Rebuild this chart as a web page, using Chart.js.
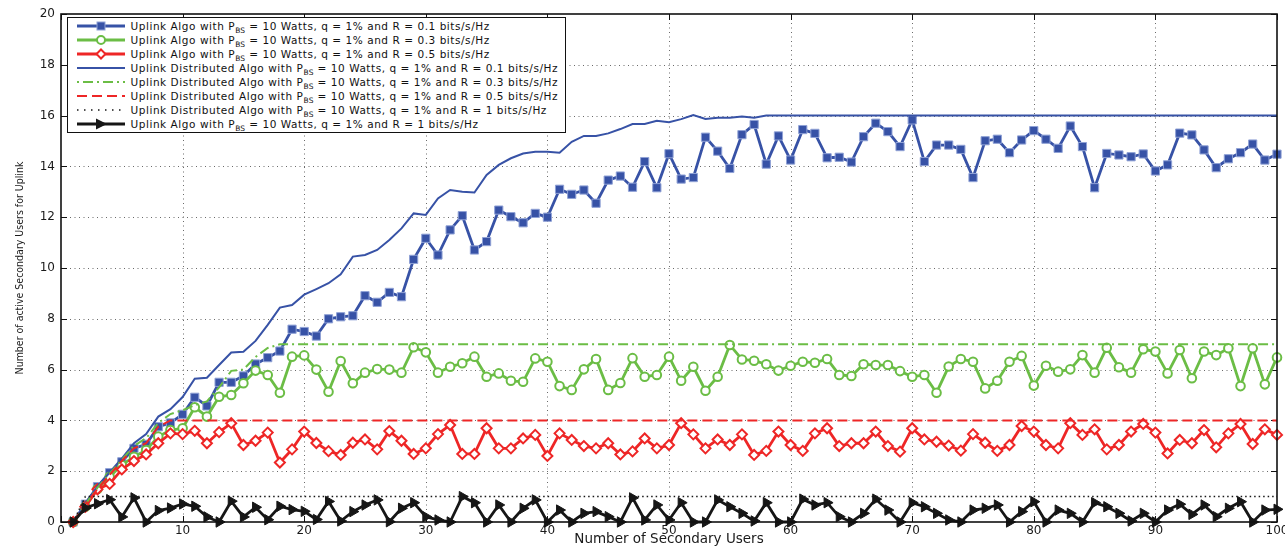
<!DOCTYPE html>
<html>
<head>
<meta charset="utf-8">
<script src="https://cdn.jsdelivr.net/npm/chart.js@4.4.1/dist/chart.umd.min.js"></script>
<style>
  html, body { margin: 0; padding: 0; background: #fff; }
  #wrap { position: relative; width: 1285px; height: 548px; }
  #c { position: absolute; left: 0; top: 0; }
  #legend {
    position: absolute; left: 67px; top: 16.5px; width: 497px; height: 113px;
    border: 1.5px solid #111; background: #fff; padding: 1px 0 0 0;
    font-family: 'DejaVu Sans', sans-serif; font-size: 10.5px; letter-spacing: 0.55px; color: #111;
  }
  .row { height: 14.1px; display: flex; align-items: center; white-space: nowrap; }
  .row svg { margin-left: 8.5px; margin-right: 6px; flex: none; }
  .row sub { font-size: 7.5px; vertical-align: -3px; line-height: 0; letter-spacing: 0.2px; }
</style>
</head>
<body>
<div id="wrap">
  <canvas id="c" width="1285" height="548"></canvas>
  <div id="legend"></div>
</div>
<script>
// ---------- data ----------
const users = [1,2,3,4,5,6,7,8,9,10,11,12,13,14,15,16,17,18,19,20,21,22,23,24,25,26,27,28,29,30,31,32,33,34,35,36,37,38,39,40,41,42,43,44,45,46,47,48,49,50,51,52,53,54,55,56,57,58,59,60,61,62,63,64,65,66,67,68,69,70,71,72,73,74,75,76,77,78,79,80,81,82,83,84,85,86,87,88,89,90,91,92,93,94,95,96,97,98,99,100];

const algoR01 = [0,0.7,1.39,1.94,2.37,2.9,3.06,3.75,3.9,4.24,4.91,4.57,5.5,5.5,5.75,6.22,6.47,6.73,7.59,7.5,7.32,8.0,8.08,8.12,8.91,8.65,9.04,8.87,10.34,11.17,10.51,11.5,12.06,10.71,11.04,12.28,12.02,11.78,12.15,12.0,13.1,12.9,13.07,12.55,13.46,13.62,13.18,14.19,13.16,14.5,13.5,13.56,15.15,14.6,13.92,15.25,15.65,14.09,15.2,14.25,15.45,15.3,14.34,14.36,14.17,15.17,15.7,15.37,14.78,15.83,14.19,14.84,14.84,14.67,13.56,15.01,15.07,14.54,15.04,15.41,15.07,14.71,15.59,14.78,13.16,14.51,14.45,14.38,14.49,13.82,14.06,15.31,15.24,14.65,13.95,14.3,14.54,14.88,14.25,14.48];

const algoR03 = [0,0.6,1.3,1.78,2.24,2.57,2.83,3.36,3.62,3.69,4.52,4.15,4.93,5.0,5.46,5.96,5.79,5.09,6.51,6.56,6.0,5.13,6.34,5.46,5.88,6.02,6.0,5.88,6.88,6.68,5.88,6.11,6.25,6.51,5.72,5.85,5.56,5.52,6.44,6.31,5.35,5.2,6.01,6.42,5.2,5.47,6.45,5.72,5.79,6.51,5.56,6.11,5.17,5.72,6.97,6.4,6.35,6.21,5.96,6.15,6.31,6.27,6.42,5.79,5.75,6.21,6.18,6.18,5.94,5.72,5.79,5.09,6.12,6.42,6.31,5.26,5.56,6.31,6.54,5.37,6.15,5.92,6.01,6.57,5.88,6.86,6.09,5.88,6.8,6.71,5.85,6.77,5.66,6.71,6.57,6.84,5.35,6.84,5.42,6.48];

const algoR05 = [0,0.6,1.29,1.5,2.07,2.4,2.66,3.1,3.49,3.46,3.59,3.1,3.54,3.89,3.03,3.2,3.52,2.34,2.86,3.56,3.11,2.79,2.64,3.12,3.25,2.86,3.58,3.2,2.68,2.9,3.46,3.82,2.68,2.68,3.69,2.9,2.9,3.29,3.43,2.6,3.49,3.23,2.99,2.9,3.1,2.66,2.78,3.29,2.9,3.03,3.89,3.45,2.9,3.25,3.03,3.45,2.64,2.8,3.56,3.03,2.8,3.49,3.69,2.99,3.1,3.1,3.56,2.99,2.77,3.69,3.25,3.16,3.01,2.81,3.46,3.12,2.8,3.03,3.78,3.56,3.03,2.9,3.89,3.43,3.65,2.86,3.03,3.56,3.86,3.52,2.7,3.23,3.1,3.62,2.94,3.49,3.86,3.07,3.65,3.43];

const distR01 = [0,0.75,1.4,1.95,2.5,3.1,3.46,4.15,4.44,4.92,5.64,5.68,6.18,6.67,6.7,7.13,7.76,8.44,8.54,8.95,9.17,9.4,9.75,10.45,10.51,10.71,11.1,11.56,12.15,12.09,12.74,13.07,13.0,12.97,13.66,14.06,14.32,14.51,14.58,14.58,14.54,14.97,15.2,15.2,15.3,15.47,15.67,15.67,15.8,15.74,15.86,16.02,15.87,15.92,15.92,15.96,15.92,16,16,16,16,16,16,16,16,16,16,16,16,16,16,16,16,16,16,16,16,16,16,16,16,16,16,16,16,16,16,16,16,16,16,16,16,16,16,16,16,16,16,16];

const distR03 = [0,0.7,1.35,1.9,2.45,3.0,3.3,3.9,4.25,4.4,4.6,4.75,5.3,5.95,6.0,6.5,6.85,7,7,7,7,7,7,7,7,7,7,7,7,7,7,7,7,7,7,7,7,7,7,7,7,7,7,7,7,7,7,7,7,7,7,7,7,7,7,7,7,7,7,7,7,7,7,7,7,7,7,7,7,7,7,7,7,7,7,7,7,7,7,7,7,7,7,7,7,7,7,7,7,7,7,7,7,7,7,7,7,7,7,7];

const distR05 = [0,0.7,1.3,1.85,2.4,2.9,3.1,3.75,4,4,4,4,4,4,4,4,4,4,4,4,4,4,4,4,4,4,4,4,4,4,4,4,4,4,4,4,4,4,4,4,4,4,4,4,4,4,4,4,4,4,4,4,4,4,4,4,4,4,4,4,4,4,4,4,4,4,4,4,4,4,4,4,4,4,4,4,4,4,4,4,4,4,4,4,4,4,4,4,4,4,4,4,4,4,4,4,4,4,4,4];

const distR1 = [0,1,1,1,1,1,1,1,1,1,1,1,1,1,1,1,1,1,1,1,1,1,1,1,1,1,1,1,1,1,1,1,1,1,1,1,1,1,1,1,1,1,1,1,1,1,1,1,1,1,1,1,1,1,1,1,1,1,1,1,1,1,1,1,1,1,1,1,1,1,1,1,1,1,1,1,1,1,1,1,1,1,1,1,1,1,1,1,1,1,1,1,1,1,1,1,1,1,1,1];

const algoR1 = [0,0.55,0.72,0.88,0.2,0.95,0,0.45,0.55,0.71,0.62,0.2,0,0.82,0.2,0.58,0.09,0.62,0.49,0.42,0.1,0.81,0.04,0.41,0.67,0.87,0.01,0.54,0.76,0.21,0.08,0,1.0,0.76,0,0.67,0,0.54,0.87,0,0.47,0,0.34,0.41,0.21,0,0.95,0.08,0.67,0.08,0.76,0,0,0.87,0.6,0.34,0.04,0.76,0,0,0.9,0.67,0.76,0.21,0,0.34,0.9,0.47,0,0.76,0.6,0.34,0.08,0,0.47,0.54,0.67,0,0.41,0.8,0,0.47,0.34,0,0.76,0.6,0.34,0.04,0.34,0,0.47,0.7,0.3,0.67,0.21,0.54,0.8,0,0.47,0.5];

const xTicks = [0,10,20,30,40,50,60,70,80,90,100];
const yTicks = [0,2,4,6,8,10,12,14,16,18,20];

const seriesNames = [
  ['Uplink Algo with P', 'BS', ' = 10 Watts, q = 1% and R = 0.1 bits/s/Hz'],
  ['Uplink Algo with P', 'BS', ' = 10 Watts, q = 1% and R = 0.3 bits/s/Hz'],
  ['Uplink Algo with P', 'BS', ' = 10 Watts, q = 1% and R = 0.5 bits/s/Hz'],
  ['Uplink Distributed Algo with P', 'BS', ' = 10 Watts, q = 1% and R = 0.1 bits/s/Hz'],
  ['Uplink Distributed Algo with P', 'BS', ' = 10 Watts, q = 1% and R = 0.3 bits/s/Hz'],
  ['Uplink Distributed Algo with P', 'BS', ' = 10 Watts, q = 1% and R = 0.5 bits/s/Hz'],
  ['Uplink Distributed Algo with P', 'BS', ' = 10 Watts, q = 1% and R = 1 bits/s/Hz'],
  ['Uplink Algo with P', 'BS', ' = 10 Watts, q = 1% and R = 1 bits/s/Hz']
];
const xTitle = 'Number of Secondary Users';
const yTitle = 'Number of active Secondary Users for Uplink';

// ---------- styles ----------
const BLUE = '#3752a6', GREEN = '#6bbd45', RED = '#ee2626', BLACK = '#161616';
const pts = arr => users.map((u, i) => ({x: u, y: arr[i]}));

const styles = [
  {data: algoR01, borderColor: BLUE, borderWidth: 2.8, pointStyle: 'rect', pointRadius: 5.8, pointBackgroundColor: BLUE, pointBorderColor: '#90a2d6', pointBorderWidth: 1},
  {data: algoR03, borderColor: GREEN, borderWidth: 2.8, pointStyle: 'circle', pointRadius: 4.3, pointBackgroundColor: '#fff', pointBorderColor: GREEN, pointBorderWidth: 2},
  {data: algoR05, borderColor: RED, borderWidth: 2.8, pointStyle: 'rectRot', pointRadius: 5, pointBackgroundColor: '#fff', pointBorderColor: RED, pointBorderWidth: 2},
  {data: distR01, borderColor: BLUE, borderWidth: 2, pointRadius: 0},
  {data: distR03, borderColor: GREEN, borderWidth: 2, borderDash: [10, 4, 2, 4], pointRadius: 0},
  {data: distR05, borderColor: RED, borderWidth: 2, borderDash: [10, 5], pointRadius: 0},
  {data: distR1, borderColor: BLACK, borderWidth: 1.5, borderDash: [1.5, 3], pointRadius: 0},
  {data: algoR1, borderColor: BLACK, borderWidth: 2.8, pointStyle: 'triangle', rotation: 90, pointRadius: 6, pointBackgroundColor: BLACK, pointBorderColor: BLACK, pointBorderWidth: 1}
];

const datasets = styles.map((s, i) => Object.assign({}, s, {
  label: seriesNames[i].join(''),
  data: pts(s.data),
  fill: false, tension: 0, clip: false,
  pointRotation: s.rotation || 0,
  order: styles.length - i
}));

// ---------- plugin: MATLAB-like grid, box and inner ticks ----------
const matlabAxes = {
  id: 'matlabAxes',
  beforeDatasetsDraw(chart) {
    const {ctx, chartArea: a, scales: {x, y}} = chart;
    ctx.save();
    ctx.strokeStyle = '#6a6a6a';
    ctx.lineWidth = 1;
    ctx.setLineDash([1, 3.5]);
    ctx.beginPath();
    xTicks.forEach(v => {
      if (v === xTicks[0] || v === xTicks[xTicks.length - 1]) return;
      const px = Math.round(x.getPixelForValue(v)) + 0.5;
      ctx.moveTo(px, a.top); ctx.lineTo(px, a.bottom);
    });
    yTicks.forEach(v => {
      if (v === yTicks[0] || v === yTicks[yTicks.length - 1]) return;
      const py = Math.round(y.getPixelForValue(v)) + 0.5;
      ctx.moveTo(a.left, py); ctx.lineTo(a.right, py);
    });
    ctx.stroke();
    ctx.setLineDash([]);
    ctx.strokeStyle = '#111';
    ctx.lineWidth = 1;
    ctx.beginPath();
    const tl = 6;
    xTicks.forEach(v => {
      const px = Math.round(x.getPixelForValue(v)) + 0.5;
      ctx.moveTo(px, a.bottom); ctx.lineTo(px, a.bottom - tl);
      ctx.moveTo(px, a.top); ctx.lineTo(px, a.top + tl);
    });
    yTicks.forEach(v => {
      const py = Math.round(y.getPixelForValue(v)) + 0.5;
      ctx.moveTo(a.left, py); ctx.lineTo(a.left + tl, py);
      ctx.moveTo(a.right, py); ctx.lineTo(a.right - tl, py);
    });
    ctx.stroke();
    ctx.restore();
  },
  afterDatasetsDraw(chart) {
    const {ctx, chartArea: a} = chart;
    ctx.save();
    ctx.strokeStyle = '#111';
    ctx.lineWidth = 1.6;
    ctx.strokeRect(a.left, a.top, a.right - a.left, a.bottom - a.top);
    ctx.restore();
  }
};

Chart.defaults.font.family = "'DejaVu Sans', sans-serif";
Chart.defaults.color = '#1a1a1a';

new Chart(document.getElementById('c'), {
  type: 'line',
  data: {datasets},
  options: {
    responsive: false,
    animation: false,
    layout: {padding: {left: 0, right: 8, top: 14, bottom: 0}},
    plugins: {legend: {display: false}, tooltip: {enabled: false}},
    scales: {
      x: {
        type: 'linear', min: 0, max: 100,
        afterBuildTicks: s => { s.ticks = xTicks.map(v => ({value: v})); },
        ticks: {font: {size: 12}, padding: 2, maxRotation: 0, autoSkip: false},
        grid: {display: false, drawTicks: false},
        border: {display: false},
        title: {display: true, text: xTitle, font: {size: 13.5}, padding: {top: 0, bottom: 0}},
        afterFit: s => { s.height = 26; s.paddingLeft = 0; s.paddingRight = 0; }
      },
      y: {
        type: 'linear', min: 0, max: 20,
        afterBuildTicks: s => { s.ticks = yTicks.map(v => ({value: v})); },
        ticks: {font: {size: 12}, padding: 6, autoSkip: false},
        grid: {display: false, drawTicks: false},
        border: {display: false},
        title: {display: true, text: yTitle, font: {family: "'Liberation Sans Narrow', 'DejaVu Sans Condensed', sans-serif", size: 10.5}, padding: {top: 14, bottom: 0}},
        afterFit: s => { s.width = 61; s.paddingTop = 0; s.paddingBottom = 0; }
      }
    }
  },
  plugins: [matlabAxes]
});

// ---------- legend (HTML, real text) ----------
const sampleSvg = [
  `<line x1="0" y1="7" x2="48" y2="7" stroke="${BLUE}" stroke-width="2.8"/><rect x="20" y="3" width="8" height="8" fill="${BLUE}" stroke="#90a2d6" stroke-width="1"/>`,
  `<line x1="0" y1="7" x2="48" y2="7" stroke="${GREEN}" stroke-width="2.8"/><circle cx="24" cy="7" r="4" fill="#fff" stroke="${GREEN}" stroke-width="2"/>`,
  `<line x1="0" y1="7" x2="48" y2="7" stroke="${RED}" stroke-width="2.8"/><polygon points="24,2.5 28.5,7 24,11.5 19.5,7" fill="#fff" stroke="${RED}" stroke-width="2"/>`,
  `<line x1="0" y1="7" x2="48" y2="7" stroke="${BLUE}" stroke-width="2"/>`,
  `<line x1="0" y1="7" x2="48" y2="7" stroke="${GREEN}" stroke-width="2" stroke-dasharray="10 4 2 4" stroke-dashoffset="-6"/>`,
  `<line x1="0" y1="7" x2="48" y2="7" stroke="${RED}" stroke-width="2" stroke-dasharray="10 5"/>`,
  `<line x1="0" y1="7" x2="48" y2="7" stroke="${BLACK}" stroke-width="1.5" stroke-dasharray="1.5 5.5"/>`,
  `<line x1="0" y1="7" x2="48" y2="7" stroke="${BLACK}" stroke-width="2.8"/><polygon points="19,1.5 30,7 19,12.5" fill="${BLACK}"/>`
];
const legend = document.getElementById('legend');
seriesNames.forEach((n, i) => {
  const row = document.createElement('div');
  row.className = 'row';
  row.innerHTML = `<svg width="48" height="14" viewBox="0 0 48 14">${sampleSvg[i]}</svg><span>${n[0]}<sub>${n[1]}</sub>${n[2]}</span>`;
  legend.appendChild(row);
});
</script>
</body>
</html>
